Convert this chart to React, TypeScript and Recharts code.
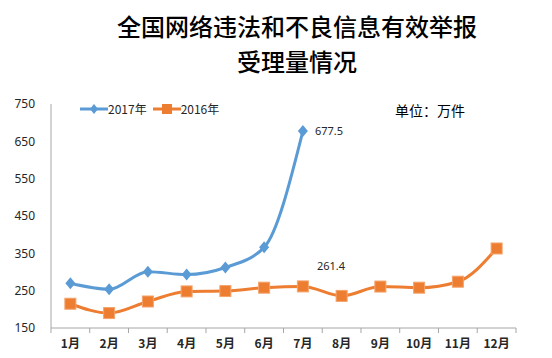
import { LineChart, Line, XAxis, YAxis, Legend } from "recharts";

const MONTHS = ["1月", "2月", "3月", "4月", "5月", "6月", "7月", "8月", "9月", "10月", "11月", "12月"];
const Y2017 = [270, 254, 301, 293, 312, 366, 677.5, null, null, null, null, null];
const Y2016 = [215, 190, 221, 248, 249, 258, 261.4, 236, 261, 258, 274, 363];
const Y_TICKS = [150, 250, 350, 450, 550, 650, 750];

const BLUE = "#5B9BD5";
const ORANGE = "#ED7D31";
const HALF_BAND = 19.4;

const data = MONTHS.map((month, i) => ({ month, y2017: Y2017[i], y2016: Y2016[i] }));

function MonthTick(props: any) {
  const { x, y, payload, index } = props;
  const last = index === MONTHS.length - 1;
  return (
    <g>
      <line x1={x - HALF_BAND} x2={x - HALF_BAND} y1={y - 8} y2={y - 3} stroke="#a6a6a6" />
      {last && <line x1={x + HALF_BAND} x2={x + HALF_BAND} y1={y - 8} y2={y - 3} stroke="#a6a6a6" />}
      <text x={x} y={y + 12} textAnchor="middle" fontSize={12} fontWeight={600} fill="#262626" fontFamily="'Noto Sans CJK SC'">
        {payload.value}
      </text>
    </g>
  );
}

function Diamond(props: any) {
  const { cx, cy, index } = props;
  if (cx == null || cy == null || props.value == null) return <g key={index} />;
  return <path key={index} d={`M${cx},${cy - 6} L${cx + 5},${cy} L${cx},${cy + 6} L${cx - 5},${cy} Z`} fill={BLUE} />;
}

function Square(props: any) {
  const { cx, cy, index } = props;
  return <rect key={index} x={cx - 5.5} y={cy - 5.5} width={11} height={11} fill={ORANGE} stroke="#F4A36B" strokeWidth={1} />;
}

function Label2017(props: any) {
  const { x, y, index, value } = props;
  if (index !== 6) return null;
  return (
    <text x={x + 12} y={y + 4} fontSize={11} fill="#262626" fontFamily="'Noto Sans'">
      {value}
    </text>
  );
}

function Label2016(props: any) {
  const { x, y, index, value } = props;
  if (index !== 6) return null;
  return (
    <text x={x + 14} y={y - 16} fontSize={11} fill="#262626" fontFamily="'Noto Sans'">
      {value}
    </text>
  );
}

function LegendContent() {
  const item = (color: string, label: string, square: boolean) => (
    <div style={{ display: "flex", alignItems: "center", marginRight: 6 }}>
      <svg width={28} height={12}>
        <line x1={0} x2={28} y1={6} y2={6} stroke={color} strokeWidth={3} />
        {square ? (
          <rect x={9} y={1} width={10} height={10} fill={color} />
        ) : (
          <path d="M14,1 L18,6 L14,11 L10,6 Z" fill={color} />
        )}
      </svg>
      <span>{label}</span>
    </div>
  );
  return (
    <div style={{ display: "flex", fontSize: 12, color: "#262626", fontFamily: "'Noto Sans CJK SC'" }}>
      {item(BLUE, "2017年", false)}
      {item(ORANGE, "2016年", true)}
    </div>
  );
}

export default function App() {
  return (
    <div style={{ position: "absolute", left: 0, top: 0, width: 552, height: 358, background: "#fff" }}>
      <div
        style={{
          position: "absolute",
          left: 0,
          top: 8,
          width: 594,
          textAlign: "center",
          fontFamily: "'Noto Sans CJK SC'",
          fontSize: 24,
          fontWeight: 500,
          lineHeight: "35px",
          color: "#000",
        }}
      >
        全国网络违法和不良信息有效举报
        <br />
        受理量情况
      </div>
      <div
        style={{
          position: "absolute",
          left: 395,
          top: 100,
          fontFamily: "'Noto Sans CJK SC'",
          fontSize: 14,
          color: "#000",
        }}
      >
        单位：万件
      </div>
      <LineChart width={552} height={358} data={data} margin={{ top: 104, right: 36, bottom: 0, left: 0 }}>
        <XAxis
          dataKey="month"
          scale="band"
          height={30}
          tickLine={false}
          axisLine={{ stroke: "#a6a6a6" }}
          tick={<MonthTick />}
          interval={0}
        />
        <YAxis
          width={51}
          domain={[150, 750]}
          ticks={Y_TICKS}
          tickLine={false}
          axisLine={{ stroke: "#a6a6a6" }}
          tick={{ fontSize: 12, fill: "#262626", fontFamily: "'Noto Sans'" }}
          tickMargin={10}
        />
        <Legend
          verticalAlign="middle"
          align="center"
          layout="horizontal"
          content={<LegendContent />}
          wrapperStyle={{ position: "absolute", left: 80, top: 100, width: 200 }}
        />
        <Line
          dataKey="y2017"
          type="monotone"
          stroke={BLUE}
          strokeWidth={3}
          dot={<Diamond />}
          activeDot={false}
          label={<Label2017 />}
          isAnimationActive={false}
        />
        <Line
          dataKey="y2016"
          type="monotone"
          stroke={ORANGE}
          strokeWidth={3}
          dot={<Square />}
          activeDot={false}
          label={<Label2016 />}
          isAnimationActive={false}
        />
      </LineChart>
    </div>
  );
}
